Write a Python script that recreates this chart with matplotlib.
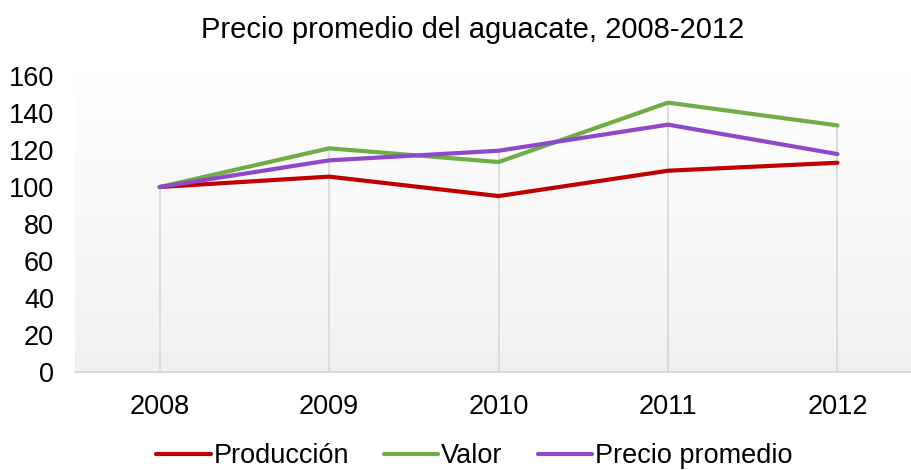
import matplotlib
matplotlib.use("Agg")
import matplotlib.pyplot as plt
import numpy as np

plt.rcParams['font.family'] = ['Liberation Sans', 'DejaVu Sans']

years = ['2008', '2009', '2010', '2011', '2012']
produccion = [100, 105.6, 95.1, 108.8, 113.1]
valor = [100, 120.9, 113.5, 145.6, 133.3]
precio = [100, 114.4, 119.6, 133.7, 117.8]

fig = plt.figure(figsize=(9.12, 4.70), dpi=100)
ax = fig.add_axes([75 / 912, 98 / 470, (912 - 75) / 912, (372 - 76) / 470])

x = np.arange(len(years))

# gradient background, white at top to light grey at bottom
grad = np.linspace(1.0, 0.0, 256).reshape(-1, 1)
ax.imshow(grad, extent=[0, 1, 0, 1], transform=ax.transAxes, aspect='auto',
          cmap=matplotlib.colors.LinearSegmentedColormap.from_list('g', ['#f0f0f0', '#ffffff']),
          zorder=0)

# drop lines from the highest point down to the axis
tops = np.max([produccion, valor, precio], axis=0)
ax.vlines(x, 0, tops, color='#d9d9d9', lw=1.3, zorder=1)

ax.plot(x, produccion, color='#c00000', lw=3, label='Producción', zorder=3, solid_capstyle='round')
ax.plot(x, valor, color='#70ad47', lw=3, label='Valor', zorder=3, solid_capstyle='round')
ax.plot(x, precio, color='#8e48c8', lw=3, label='Precio promedio', zorder=3, solid_capstyle='round')

ax.set_xlim(-0.5, 4.44)
ax.set_ylim(0, 160)
ax.set_yticks(range(0, 161, 20))
ax.set_xticks(x)
ax.set_xticklabels(years)
ax.tick_params(axis='both', length=0, labelsize=19.5)
ax.tick_params(axis='y', pad=15)
ax.tick_params(axis='x', pad=16)

for s in ['top', 'right', 'left']:
    ax.spines[s].set_visible(False)
ax.spines['bottom'].set_color('#d9d9d9')
ax.spines['bottom'].set_linewidth(1.5)
ax.spines['bottom'].set_zorder(2)

fig.suptitle('Precio promedio del aguacate, 2008-2012', fontsize=21, y=0.965, x=0.518)

fig.legend(loc='lower center', bbox_to_anchor=(0.52, 0.002), ncol=3, frameon=False,
           fontsize=19.5, handlelength=2.0, handletextpad=0.1, columnspacing=1.3,
           borderaxespad=0.0, borderpad=0.0)

fig.savefig('out.png', dpi=100)
